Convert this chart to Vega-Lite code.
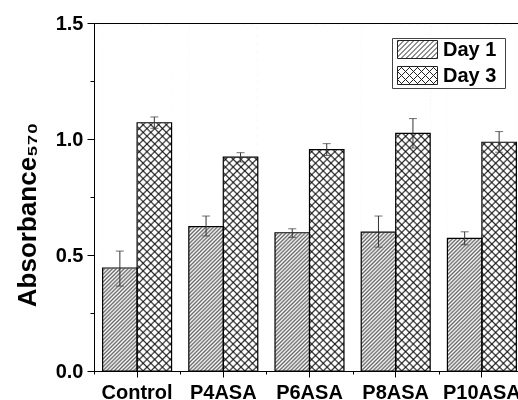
{
  "$schema": "https://vega.github.io/schema/vega-lite/v6.json",
  "width": 431,
  "height": 348,
  "autosize": {"type": "none"},
  "padding": {"left": 94, "top": 23, "right": 0, "bottom": 29},
  "background": "white",
  "data": {
    "values": [
      {"group": "Control", "day": "Day 1", "value": 0.444, "lo": 0.366, "hi": 0.517},
      {"group": "Control", "day": "Day 3", "value": 1.070, "lo": 1.046, "hi": 1.095},
      {"group": "P4ASA", "day": "Day 1", "value": 0.622, "lo": 0.582, "hi": 0.668},
      {"group": "P4ASA", "day": "Day 3", "value": 0.922, "lo": 0.901, "hi": 0.941},
      {"group": "P6ASA", "day": "Day 1", "value": 0.596, "lo": 0.576, "hi": 0.613},
      {"group": "P6ASA", "day": "Day 3", "value": 0.954, "lo": 0.929, "hi": 0.980},
      {"group": "P8ASA", "day": "Day 1", "value": 0.599, "lo": 0.534, "hi": 0.668},
      {"group": "P8ASA", "day": "Day 3", "value": 1.024, "lo": 0.961, "hi": 1.088},
      {"group": "P10ASA", "day": "Day 1", "value": 0.572, "lo": 0.544, "hi": 0.600},
      {"group": "P10ASA", "day": "Day 3", "value": 0.986, "lo": 0.943, "hi": 1.032}
    ]
  },
  "layer": [
    {
      "transform": [{"filter": "datum.day === 'Day 1'"}],
      "mark": {
        "type": "bar",
        "fill": {
          "gradient": "linear", "x1": 0, "y1": 0, "x2": 0.109, "y2": 1.1,
          "stops": [
            {"offset":0,"color":"#666"},{"offset":0.005,"color":"#fff"},{"offset":0.01,"color":"#666"},{"offset":0.015,"color":"#fff"},{"offset":0.02,"color":"#666"},{"offset":0.025,"color":"#fff"},{"offset":0.03,"color":"#666"},{"offset":0.035,"color":"#fff"},{"offset":0.04,"color":"#666"},{"offset":0.045,"color":"#fff"},{"offset":0.05,"color":"#666"},{"offset":0.055,"color":"#fff"},{"offset":0.06,"color":"#666"},{"offset":0.065,"color":"#fff"},{"offset":0.07,"color":"#666"},{"offset":0.075,"color":"#fff"},{"offset":0.08,"color":"#666"},{"offset":0.085,"color":"#fff"},{"offset":0.09,"color":"#666"},{"offset":0.095,"color":"#fff"},
            {"offset":0.1,"color":"#666"},{"offset":0.105,"color":"#fff"},{"offset":0.11,"color":"#666"},{"offset":0.115,"color":"#fff"},{"offset":0.12,"color":"#666"},{"offset":0.125,"color":"#fff"},{"offset":0.13,"color":"#666"},{"offset":0.135,"color":"#fff"},{"offset":0.14,"color":"#666"},{"offset":0.145,"color":"#fff"},{"offset":0.15,"color":"#666"},{"offset":0.155,"color":"#fff"},{"offset":0.16,"color":"#666"},{"offset":0.165,"color":"#fff"},{"offset":0.17,"color":"#666"},{"offset":0.175,"color":"#fff"},{"offset":0.18,"color":"#666"},{"offset":0.185,"color":"#fff"},{"offset":0.19,"color":"#666"},{"offset":0.195,"color":"#fff"},
            {"offset":0.2,"color":"#666"},{"offset":0.205,"color":"#fff"},{"offset":0.21,"color":"#666"},{"offset":0.215,"color":"#fff"},{"offset":0.22,"color":"#666"},{"offset":0.225,"color":"#fff"},{"offset":0.23,"color":"#666"},{"offset":0.235,"color":"#fff"},{"offset":0.24,"color":"#666"},{"offset":0.245,"color":"#fff"},{"offset":0.25,"color":"#666"},{"offset":0.255,"color":"#fff"},{"offset":0.26,"color":"#666"},{"offset":0.265,"color":"#fff"},{"offset":0.27,"color":"#666"},{"offset":0.275,"color":"#fff"},{"offset":0.28,"color":"#666"},{"offset":0.285,"color":"#fff"},{"offset":0.29,"color":"#666"},{"offset":0.295,"color":"#fff"},
            {"offset":0.3,"color":"#666"},{"offset":0.305,"color":"#fff"},{"offset":0.31,"color":"#666"},{"offset":0.315,"color":"#fff"},{"offset":0.32,"color":"#666"},{"offset":0.325,"color":"#fff"},{"offset":0.33,"color":"#666"},{"offset":0.335,"color":"#fff"},{"offset":0.34,"color":"#666"},{"offset":0.345,"color":"#fff"},{"offset":0.35,"color":"#666"},{"offset":0.355,"color":"#fff"},{"offset":0.36,"color":"#666"},{"offset":0.365,"color":"#fff"},{"offset":0.37,"color":"#666"},{"offset":0.375,"color":"#fff"},{"offset":0.38,"color":"#666"},{"offset":0.385,"color":"#fff"},{"offset":0.39,"color":"#666"},{"offset":0.395,"color":"#fff"},
            {"offset":0.4,"color":"#666"},{"offset":0.405,"color":"#fff"},{"offset":0.41,"color":"#666"},{"offset":0.415,"color":"#fff"},{"offset":0.42,"color":"#666"},{"offset":0.425,"color":"#fff"},{"offset":0.43,"color":"#666"},{"offset":0.435,"color":"#fff"},{"offset":0.44,"color":"#666"},{"offset":0.445,"color":"#fff"},{"offset":0.45,"color":"#666"},{"offset":0.455,"color":"#fff"},{"offset":0.46,"color":"#666"},{"offset":0.465,"color":"#fff"},{"offset":0.47,"color":"#666"},{"offset":0.475,"color":"#fff"},{"offset":0.48,"color":"#666"},{"offset":0.485,"color":"#fff"},{"offset":0.49,"color":"#666"},{"offset":0.495,"color":"#fff"},
            {"offset":0.5,"color":"#666"},{"offset":0.505,"color":"#fff"},{"offset":0.51,"color":"#666"},{"offset":0.515,"color":"#fff"},{"offset":0.52,"color":"#666"},{"offset":0.525,"color":"#fff"},{"offset":0.53,"color":"#666"},{"offset":0.535,"color":"#fff"},{"offset":0.54,"color":"#666"},{"offset":0.545,"color":"#fff"},{"offset":0.55,"color":"#666"},{"offset":0.555,"color":"#fff"},{"offset":0.56,"color":"#666"},{"offset":0.565,"color":"#fff"},{"offset":0.57,"color":"#666"},{"offset":0.575,"color":"#fff"},{"offset":0.58,"color":"#666"},{"offset":0.585,"color":"#fff"},{"offset":0.59,"color":"#666"},{"offset":0.595,"color":"#fff"},
            {"offset":0.6,"color":"#666"},{"offset":0.605,"color":"#fff"},{"offset":0.61,"color":"#666"},{"offset":0.615,"color":"#fff"},{"offset":0.62,"color":"#666"},{"offset":0.625,"color":"#fff"},{"offset":0.63,"color":"#666"},{"offset":0.635,"color":"#fff"},{"offset":0.64,"color":"#666"},{"offset":0.645,"color":"#fff"},{"offset":0.65,"color":"#666"},{"offset":0.655,"color":"#fff"},{"offset":0.66,"color":"#666"},{"offset":0.665,"color":"#fff"},{"offset":0.67,"color":"#666"},{"offset":0.675,"color":"#fff"},{"offset":0.68,"color":"#666"},{"offset":0.685,"color":"#fff"},{"offset":0.69,"color":"#666"},{"offset":0.695,"color":"#fff"},
            {"offset":0.7,"color":"#666"},{"offset":0.705,"color":"#fff"},{"offset":0.71,"color":"#666"},{"offset":0.715,"color":"#fff"},{"offset":0.72,"color":"#666"},{"offset":0.725,"color":"#fff"},{"offset":0.73,"color":"#666"},{"offset":0.735,"color":"#fff"},{"offset":0.74,"color":"#666"},{"offset":0.745,"color":"#fff"},{"offset":0.75,"color":"#666"},{"offset":0.755,"color":"#fff"},{"offset":0.76,"color":"#666"},{"offset":0.765,"color":"#fff"},{"offset":0.77,"color":"#666"},{"offset":0.775,"color":"#fff"},{"offset":0.78,"color":"#666"},{"offset":0.785,"color":"#fff"},{"offset":0.79,"color":"#666"},{"offset":0.795,"color":"#fff"},
            {"offset":0.8,"color":"#666"},{"offset":0.805,"color":"#fff"},{"offset":0.81,"color":"#666"},{"offset":0.815,"color":"#fff"},{"offset":0.82,"color":"#666"},{"offset":0.825,"color":"#fff"},{"offset":0.83,"color":"#666"},{"offset":0.835,"color":"#fff"},{"offset":0.84,"color":"#666"},{"offset":0.845,"color":"#fff"},{"offset":0.85,"color":"#666"},{"offset":0.855,"color":"#fff"},{"offset":0.86,"color":"#666"},{"offset":0.865,"color":"#fff"},{"offset":0.87,"color":"#666"},{"offset":0.875,"color":"#fff"},{"offset":0.88,"color":"#666"},{"offset":0.885,"color":"#fff"},{"offset":0.89,"color":"#666"},{"offset":0.895,"color":"#fff"},
            {"offset":0.9,"color":"#666"},{"offset":0.905,"color":"#fff"},{"offset":0.91,"color":"#666"},{"offset":0.915,"color":"#fff"},{"offset":0.92,"color":"#666"},{"offset":0.925,"color":"#fff"},{"offset":0.93,"color":"#666"},{"offset":0.935,"color":"#fff"},{"offset":0.94,"color":"#666"},{"offset":0.945,"color":"#fff"},{"offset":0.95,"color":"#666"},{"offset":0.955,"color":"#fff"},{"offset":0.96,"color":"#666"},{"offset":0.965,"color":"#fff"},{"offset":0.97,"color":"#666"},{"offset":0.975,"color":"#fff"},{"offset":0.98,"color":"#666"},{"offset":0.985,"color":"#fff"},{"offset":0.99,"color":"#666"},{"offset":0.995,"color":"#fff"},
            {"offset":1,"color":"#666"}
          ]
        }
      },
      "encoding": {
        "x": {
          "field": "group", "type": "nominal",
          "scale": {"domain": ["Control", "P4ASA", "P6ASA", "P8ASA", "P10ASA"], "paddingInner": 0.2, "paddingOuter": 0.1},
          "axis": {"orient": "bottom", "title": null, "labelAngle": 0, "tickSize": 6, "labelPadding": 5, "domain": true, "zindex": 1}
        },
        "xOffset": {"field": "day", "type": "nominal", "scale": {"domain": ["Day 1", "Day 3"]}},
        "y": {
          "datum": 1.493, "type": "quantitative",
          "scale": {"domain": [0, 1.5], "nice": false},
          "axis": {
            "orient": "left", "title": "Absorbance₅₇₀", "values": [0, 0.5, 1, 1.5], "format": ".1f",
            "tickSize": 7, "labelPadding": 4, "zindex": 1,
            "titleFont": "Liberation Sans", "titleFontWeight": "bold", "titleFontSize": 26, "titleColor": "#000",
            "titleX": -59, "titleY": 191.5, "titleAngle": 270, "titleBaseline": "alphabetic", "titleAlign": "center"
          }
        }
      }
    },
    {
      "transform": [{"filter": "datum.day === 'Day 3'"}],
      "mark": {
        "type": "bar",
        "fill": {
          "gradient": "linear", "x1": 0, "y1": 0, "x2": 0.109, "y2": 1.1,
          "stops": [
            {"offset":0,"color":"#fff"},{"offset":0.011,"color":"#fff"},{"offset":0.016,"color":"#333"},
            {"offset":0.02,"color":"#fff"},{"offset":0.031,"color":"#fff"},{"offset":0.036,"color":"#333"},
            {"offset":0.04,"color":"#fff"},{"offset":0.051,"color":"#fff"},{"offset":0.056,"color":"#333"},
            {"offset":0.06,"color":"#fff"},{"offset":0.071,"color":"#fff"},{"offset":0.076,"color":"#333"},
            {"offset":0.08,"color":"#fff"},{"offset":0.091,"color":"#fff"},{"offset":0.096,"color":"#333"},
            {"offset":0.1,"color":"#fff"},{"offset":0.111,"color":"#fff"},{"offset":0.116,"color":"#333"},
            {"offset":0.12,"color":"#fff"},{"offset":0.131,"color":"#fff"},{"offset":0.136,"color":"#333"},
            {"offset":0.14,"color":"#fff"},{"offset":0.151,"color":"#fff"},{"offset":0.156,"color":"#333"},
            {"offset":0.16,"color":"#fff"},{"offset":0.171,"color":"#fff"},{"offset":0.176,"color":"#333"},
            {"offset":0.18,"color":"#fff"},{"offset":0.191,"color":"#fff"},{"offset":0.196,"color":"#333"},
            {"offset":0.2,"color":"#fff"},{"offset":0.211,"color":"#fff"},{"offset":0.216,"color":"#333"},
            {"offset":0.22,"color":"#fff"},{"offset":0.231,"color":"#fff"},{"offset":0.236,"color":"#333"},
            {"offset":0.24,"color":"#fff"},{"offset":0.251,"color":"#fff"},{"offset":0.256,"color":"#333"},
            {"offset":0.26,"color":"#fff"},{"offset":0.271,"color":"#fff"},{"offset":0.276,"color":"#333"},
            {"offset":0.28,"color":"#fff"},{"offset":0.291,"color":"#fff"},{"offset":0.296,"color":"#333"},
            {"offset":0.3,"color":"#fff"},{"offset":0.311,"color":"#fff"},{"offset":0.316,"color":"#333"},
            {"offset":0.32,"color":"#fff"},{"offset":0.331,"color":"#fff"},{"offset":0.336,"color":"#333"},
            {"offset":0.34,"color":"#fff"},{"offset":0.351,"color":"#fff"},{"offset":0.356,"color":"#333"},
            {"offset":0.36,"color":"#fff"},{"offset":0.371,"color":"#fff"},{"offset":0.376,"color":"#333"},
            {"offset":0.38,"color":"#fff"},{"offset":0.391,"color":"#fff"},{"offset":0.396,"color":"#333"},
            {"offset":0.4,"color":"#fff"},{"offset":0.411,"color":"#fff"},{"offset":0.416,"color":"#333"},
            {"offset":0.42,"color":"#fff"},{"offset":0.431,"color":"#fff"},{"offset":0.436,"color":"#333"},
            {"offset":0.44,"color":"#fff"},{"offset":0.451,"color":"#fff"},{"offset":0.456,"color":"#333"},
            {"offset":0.46,"color":"#fff"},{"offset":0.471,"color":"#fff"},{"offset":0.476,"color":"#333"},
            {"offset":0.48,"color":"#fff"},{"offset":0.491,"color":"#fff"},{"offset":0.496,"color":"#333"},
            {"offset":0.5,"color":"#fff"},{"offset":0.511,"color":"#fff"},{"offset":0.516,"color":"#333"},
            {"offset":0.52,"color":"#fff"},{"offset":0.531,"color":"#fff"},{"offset":0.536,"color":"#333"},
            {"offset":0.54,"color":"#fff"},{"offset":0.551,"color":"#fff"},{"offset":0.556,"color":"#333"},
            {"offset":0.56,"color":"#fff"},{"offset":0.571,"color":"#fff"},{"offset":0.576,"color":"#333"},
            {"offset":0.58,"color":"#fff"},{"offset":0.591,"color":"#fff"},{"offset":0.596,"color":"#333"},
            {"offset":0.6,"color":"#fff"},{"offset":0.611,"color":"#fff"},{"offset":0.616,"color":"#333"},
            {"offset":0.62,"color":"#fff"},{"offset":0.631,"color":"#fff"},{"offset":0.636,"color":"#333"},
            {"offset":0.64,"color":"#fff"},{"offset":0.651,"color":"#fff"},{"offset":0.656,"color":"#333"},
            {"offset":0.66,"color":"#fff"},{"offset":0.671,"color":"#fff"},{"offset":0.676,"color":"#333"},
            {"offset":0.68,"color":"#fff"},{"offset":0.691,"color":"#fff"},{"offset":0.696,"color":"#333"},
            {"offset":0.7,"color":"#fff"},{"offset":0.711,"color":"#fff"},{"offset":0.716,"color":"#333"},
            {"offset":0.72,"color":"#fff"},{"offset":0.731,"color":"#fff"},{"offset":0.736,"color":"#333"},
            {"offset":0.74,"color":"#fff"},{"offset":0.751,"color":"#fff"},{"offset":0.756,"color":"#333"},
            {"offset":0.76,"color":"#fff"},{"offset":0.771,"color":"#fff"},{"offset":0.776,"color":"#333"},
            {"offset":0.78,"color":"#fff"},{"offset":0.791,"color":"#fff"},{"offset":0.796,"color":"#333"},
            {"offset":0.8,"color":"#fff"},{"offset":0.811,"color":"#fff"},{"offset":0.816,"color":"#333"},
            {"offset":0.82,"color":"#fff"},{"offset":0.831,"color":"#fff"},{"offset":0.836,"color":"#333"},
            {"offset":0.84,"color":"#fff"},{"offset":0.851,"color":"#fff"},{"offset":0.856,"color":"#333"},
            {"offset":0.86,"color":"#fff"},{"offset":0.871,"color":"#fff"},{"offset":0.876,"color":"#333"},
            {"offset":0.88,"color":"#fff"},{"offset":0.891,"color":"#fff"},{"offset":0.896,"color":"#333"},
            {"offset":0.9,"color":"#fff"},{"offset":0.911,"color":"#fff"},{"offset":0.916,"color":"#333"},
            {"offset":0.92,"color":"#fff"},{"offset":0.931,"color":"#fff"},{"offset":0.936,"color":"#333"},
            {"offset":0.94,"color":"#fff"},{"offset":0.951,"color":"#fff"},{"offset":0.956,"color":"#333"},
            {"offset":0.96,"color":"#fff"},{"offset":0.971,"color":"#fff"},{"offset":0.976,"color":"#333"},
            {"offset":0.98,"color":"#fff"},{"offset":0.991,"color":"#fff"},{"offset":0.996,"color":"#333"},
            {"offset":1,"color":"#fff"}
          ]
        }
      },
      "encoding": {
        "x": {"field": "group", "type": "nominal", "axis": null},
        "xOffset": {"field": "day", "type": "nominal"},
        "y": {"datum": 1.493, "type": "quantitative", "scale": {"domain": [0, 1.5], "nice": false}, "axis": null}
      }
    },
    {
      "transform": [{"filter": "datum.day === 'Day 3'"}],
      "mark": {
        "type": "bar",
        "blend": "multiply",
        "fill": {
          "gradient": "linear", "x1": 0, "y1": 1, "x2": 0.109, "y2": -0.1,
          "stops": [
            {"offset":0,"color":"#fff"},{"offset":0.011,"color":"#fff"},{"offset":0.016,"color":"#333"},
            {"offset":0.02,"color":"#fff"},{"offset":0.031,"color":"#fff"},{"offset":0.036,"color":"#333"},
            {"offset":0.04,"color":"#fff"},{"offset":0.051,"color":"#fff"},{"offset":0.056,"color":"#333"},
            {"offset":0.06,"color":"#fff"},{"offset":0.071,"color":"#fff"},{"offset":0.076,"color":"#333"},
            {"offset":0.08,"color":"#fff"},{"offset":0.091,"color":"#fff"},{"offset":0.096,"color":"#333"},
            {"offset":0.1,"color":"#fff"},{"offset":0.111,"color":"#fff"},{"offset":0.116,"color":"#333"},
            {"offset":0.12,"color":"#fff"},{"offset":0.131,"color":"#fff"},{"offset":0.136,"color":"#333"},
            {"offset":0.14,"color":"#fff"},{"offset":0.151,"color":"#fff"},{"offset":0.156,"color":"#333"},
            {"offset":0.16,"color":"#fff"},{"offset":0.171,"color":"#fff"},{"offset":0.176,"color":"#333"},
            {"offset":0.18,"color":"#fff"},{"offset":0.191,"color":"#fff"},{"offset":0.196,"color":"#333"},
            {"offset":0.2,"color":"#fff"},{"offset":0.211,"color":"#fff"},{"offset":0.216,"color":"#333"},
            {"offset":0.22,"color":"#fff"},{"offset":0.231,"color":"#fff"},{"offset":0.236,"color":"#333"},
            {"offset":0.24,"color":"#fff"},{"offset":0.251,"color":"#fff"},{"offset":0.256,"color":"#333"},
            {"offset":0.26,"color":"#fff"},{"offset":0.271,"color":"#fff"},{"offset":0.276,"color":"#333"},
            {"offset":0.28,"color":"#fff"},{"offset":0.291,"color":"#fff"},{"offset":0.296,"color":"#333"},
            {"offset":0.3,"color":"#fff"},{"offset":0.311,"color":"#fff"},{"offset":0.316,"color":"#333"},
            {"offset":0.32,"color":"#fff"},{"offset":0.331,"color":"#fff"},{"offset":0.336,"color":"#333"},
            {"offset":0.34,"color":"#fff"},{"offset":0.351,"color":"#fff"},{"offset":0.356,"color":"#333"},
            {"offset":0.36,"color":"#fff"},{"offset":0.371,"color":"#fff"},{"offset":0.376,"color":"#333"},
            {"offset":0.38,"color":"#fff"},{"offset":0.391,"color":"#fff"},{"offset":0.396,"color":"#333"},
            {"offset":0.4,"color":"#fff"},{"offset":0.411,"color":"#fff"},{"offset":0.416,"color":"#333"},
            {"offset":0.42,"color":"#fff"},{"offset":0.431,"color":"#fff"},{"offset":0.436,"color":"#333"},
            {"offset":0.44,"color":"#fff"},{"offset":0.451,"color":"#fff"},{"offset":0.456,"color":"#333"},
            {"offset":0.46,"color":"#fff"},{"offset":0.471,"color":"#fff"},{"offset":0.476,"color":"#333"},
            {"offset":0.48,"color":"#fff"},{"offset":0.491,"color":"#fff"},{"offset":0.496,"color":"#333"},
            {"offset":0.5,"color":"#fff"},{"offset":0.511,"color":"#fff"},{"offset":0.516,"color":"#333"},
            {"offset":0.52,"color":"#fff"},{"offset":0.531,"color":"#fff"},{"offset":0.536,"color":"#333"},
            {"offset":0.54,"color":"#fff"},{"offset":0.551,"color":"#fff"},{"offset":0.556,"color":"#333"},
            {"offset":0.56,"color":"#fff"},{"offset":0.571,"color":"#fff"},{"offset":0.576,"color":"#333"},
            {"offset":0.58,"color":"#fff"},{"offset":0.591,"color":"#fff"},{"offset":0.596,"color":"#333"},
            {"offset":0.6,"color":"#fff"},{"offset":0.611,"color":"#fff"},{"offset":0.616,"color":"#333"},
            {"offset":0.62,"color":"#fff"},{"offset":0.631,"color":"#fff"},{"offset":0.636,"color":"#333"},
            {"offset":0.64,"color":"#fff"},{"offset":0.651,"color":"#fff"},{"offset":0.656,"color":"#333"},
            {"offset":0.66,"color":"#fff"},{"offset":0.671,"color":"#fff"},{"offset":0.676,"color":"#333"},
            {"offset":0.68,"color":"#fff"},{"offset":0.691,"color":"#fff"},{"offset":0.696,"color":"#333"},
            {"offset":0.7,"color":"#fff"},{"offset":0.711,"color":"#fff"},{"offset":0.716,"color":"#333"},
            {"offset":0.72,"color":"#fff"},{"offset":0.731,"color":"#fff"},{"offset":0.736,"color":"#333"},
            {"offset":0.74,"color":"#fff"},{"offset":0.751,"color":"#fff"},{"offset":0.756,"color":"#333"},
            {"offset":0.76,"color":"#fff"},{"offset":0.771,"color":"#fff"},{"offset":0.776,"color":"#333"},
            {"offset":0.78,"color":"#fff"},{"offset":0.791,"color":"#fff"},{"offset":0.796,"color":"#333"},
            {"offset":0.8,"color":"#fff"},{"offset":0.811,"color":"#fff"},{"offset":0.816,"color":"#333"},
            {"offset":0.82,"color":"#fff"},{"offset":0.831,"color":"#fff"},{"offset":0.836,"color":"#333"},
            {"offset":0.84,"color":"#fff"},{"offset":0.851,"color":"#fff"},{"offset":0.856,"color":"#333"},
            {"offset":0.86,"color":"#fff"},{"offset":0.871,"color":"#fff"},{"offset":0.876,"color":"#333"},
            {"offset":0.88,"color":"#fff"},{"offset":0.891,"color":"#fff"},{"offset":0.896,"color":"#333"},
            {"offset":0.9,"color":"#fff"},{"offset":0.911,"color":"#fff"},{"offset":0.916,"color":"#333"},
            {"offset":0.92,"color":"#fff"},{"offset":0.931,"color":"#fff"},{"offset":0.936,"color":"#333"},
            {"offset":0.94,"color":"#fff"},{"offset":0.951,"color":"#fff"},{"offset":0.956,"color":"#333"},
            {"offset":0.96,"color":"#fff"},{"offset":0.971,"color":"#fff"},{"offset":0.976,"color":"#333"},
            {"offset":0.98,"color":"#fff"},{"offset":0.991,"color":"#fff"},{"offset":0.996,"color":"#333"},
            {"offset":1,"color":"#fff"}
          ]
        }
      },
      "encoding": {
        "x": {"field": "group", "type": "nominal", "axis": null},
        "xOffset": {"field": "day", "type": "nominal"},
        "y": {"datum": 1.493, "type": "quantitative", "scale": {"domain": [0, 1.5], "nice": false}, "axis": null}
      }
    },
    {
      "mark": {"type": "bar", "stroke": "#ffffff", "strokeWidth": 1},
      "encoding": {
        "x": {
          "field": "group", "type": "nominal",
          "axis": {"orient": "bottom", "title": null, "labels": false, "domain": false, "tickSize": 3, "tickOffset": -43.1, "zindex": 1}
        },
        "xOffset": {"field": "day", "type": "nominal"},
        "y": {
          "field": "value", "type": "quantitative",
          "scale": {"domain": [0, 1.5], "nice": false},
          "axis": {"orient": "left", "title": null, "values": [0.25, 0.75, 1.25], "labels": false, "domain": false, "tickSize": 4, "zindex": 1}
        },
        "y2": {"datum": 1.493},
        "fill": {
          "field": "day", "type": "nominal",
          "scale": {"domain": ["Day 1", "Day 3"], "range": ["#ffffff", "#ffffff"]},
          "legend": {
            "orient": "none", "legendX": 298, "legendY": 15, "direction": "vertical",
            "title": "\u00a0", "titleOrient": "right", "titlePadding": 8, "titleFontSize": 10,
            "symbolType": "M-2,-0.9H2V0.9H-2Z M-2,-0.75L-1.85,-0.9 M-2,-0.25L-1.35,-0.9 M-2,0.25L-0.85,-0.9 M-2,0.75L-0.35,-0.9 M-1.65,0.9L0.15,-0.9 M-1.15,0.9L0.65,-0.9 M-0.65,0.9L1.15,-0.9 M-0.15,0.9L1.65,-0.9 M0.35,0.9L2,-0.75 M0.85,0.9L2,-0.25 M1.35,0.9L2,0.25 M1.85,0.9L2,0.75",
            "symbolSize": 400,
            "symbolStrokeColor": "#222",
            "symbolStrokeWidth": 1,
            "symbolOffset": 14,
            "labelOffset": 15,
            "padding": 1,
            "rowPadding": 3,
            "strokeColor": "#444",
            "fillColor": "#ffffff",
            "labelFont": "Liberation Sans",
            "labelFontWeight": "bold",
            "labelFontSize": 20,
            "labelColor": "#000"
          }
        }
      }
    },
    {
      "mark": {"type": "bar", "fillOpacity": 0, "stroke": "#000", "strokeWidth": 1.2},
      "encoding": {
        "x": {"field": "group", "type": "nominal", "axis": null},
        "xOffset": {"field": "day", "type": "nominal"},
        "y": {"field": "value", "type": "quantitative", "scale": {"domain": [0, 1.5], "nice": false}, "axis": null}
      }
    },
    {
      "mark": {"type": "rule", "stroke": "#333", "strokeWidth": 1},
      "encoding": {
        "x": {"field": "group", "type": "nominal", "axis": null},
        "xOffset": {"field": "day", "type": "nominal"},
        "y": {"field": "lo", "type": "quantitative", "scale": {"domain": [0, 1.5], "nice": false}, "axis": null},
        "y2": {"field": "hi"}
      }
    },
    {
      "mark": {"type": "tick", "color": "#333", "size": 8, "thickness": 1, "orient": "horizontal"},
      "encoding": {
        "x": {"field": "group", "type": "nominal", "axis": null},
        "xOffset": {"field": "day", "type": "nominal"},
        "y": {"field": "hi", "type": "quantitative", "scale": {"domain": [0, 1.5], "nice": false}, "axis": null}
      }
    },
    {
      "mark": {"type": "tick", "color": "#333", "size": 8, "thickness": 1, "orient": "horizontal"},
      "encoding": {
        "x": {"field": "group", "type": "nominal", "axis": null},
        "xOffset": {"field": "day", "type": "nominal"},
        "y": {"field": "lo", "type": "quantitative", "scale": {"domain": [0, 1.5], "nice": false}, "axis": null}
      }
    },
    {
      "mark": {"type": "point", "filled": true, "opacity": 1, "size": 400, "clip": true},
      "encoding": {
        "x": {"field": "group", "type": "nominal", "axis": null},
        "xOffset": {"field": "day", "type": "nominal"},
        "y": {"datum": 3, "type": "quantitative", "scale": {"domain": [0, 1.5], "nice": false}, "axis": null},
        "fill": {"field": "day", "type": "nominal"},
        "shape": {
          "field": "day", "type": "nominal",
          "scale": {
            "domain": ["Day 1", "Day 3"],
            "range": [
              "M-2,-0.9H2V0.9H-2Z M-2,-0.75L-1.85,-0.9 M-2,-0.25L-1.35,-0.9 M-2,0.25L-0.85,-0.9 M-2,0.75L-0.35,-0.9 M-1.65,0.9L0.15,-0.9 M-1.15,0.9L0.65,-0.9 M-0.65,0.9L1.15,-0.9 M-0.15,0.9L1.65,-0.9 M0.35,0.9L2,-0.75 M0.85,0.9L2,-0.25 M1.35,0.9L2,0.25 M1.85,0.9L2,0.75",
              "M-2,-0.9H2V0.9H-2Z M-2,-0.4L-1.5,-0.9 M-2,0.4L-0.7,-0.9 M-1.7,0.9L0.1,-0.9 M-0.9,0.9L0.9,-0.9 M-0.1,0.9L1.7,-0.9 M0.7,0.9L2,-0.4 M1.5,0.9L2,0.4 M-2,0.4L-1.5,0.9 M-2,-0.4L-0.7,0.9 M-1.7,-0.9L0.1,0.9 M-0.9,-0.9L0.9,0.9 M-0.1,-0.9L1.7,0.9 M0.7,-0.9L2,0.4 M1.5,-0.9L2,-0.4"
            ]
          },
          "legend": {
            "orient": "none", "legendX": 298, "legendY": 15, "direction": "vertical",
            "title": "\u00a0", "titleOrient": "right", "titlePadding": 8, "titleFontSize": 10,
            "symbolSize": 400,
            "symbolStrokeColor": "#222",
            "symbolStrokeWidth": 1,
            "symbolOffset": 14,
            "labelOffset": 15,
            "padding": 1,
            "rowPadding": 3,
            "strokeColor": "#444",
            "fillColor": "#ffffff",
            "labelFont": "Liberation Sans",
            "labelFontWeight": "bold",
            "labelFontSize": 20,
            "labelColor": "#000"
          }
        }
      }
    }
  ],
  "resolve": {"axis": {"x": "independent", "y": "independent"}},
  "config": {
    "view": {"stroke": "#000", "strokeWidth": 1},
    "axis": {
      "grid": false, "domainColor": "#000", "tickColor": "#000", "labelColor": "#000",
      "domainWidth": 1, "tickWidth": 1,
      "labelFont": "Liberation Sans", "labelFontWeight": "bold", "labelFontSize": 20
    }
  }
}
